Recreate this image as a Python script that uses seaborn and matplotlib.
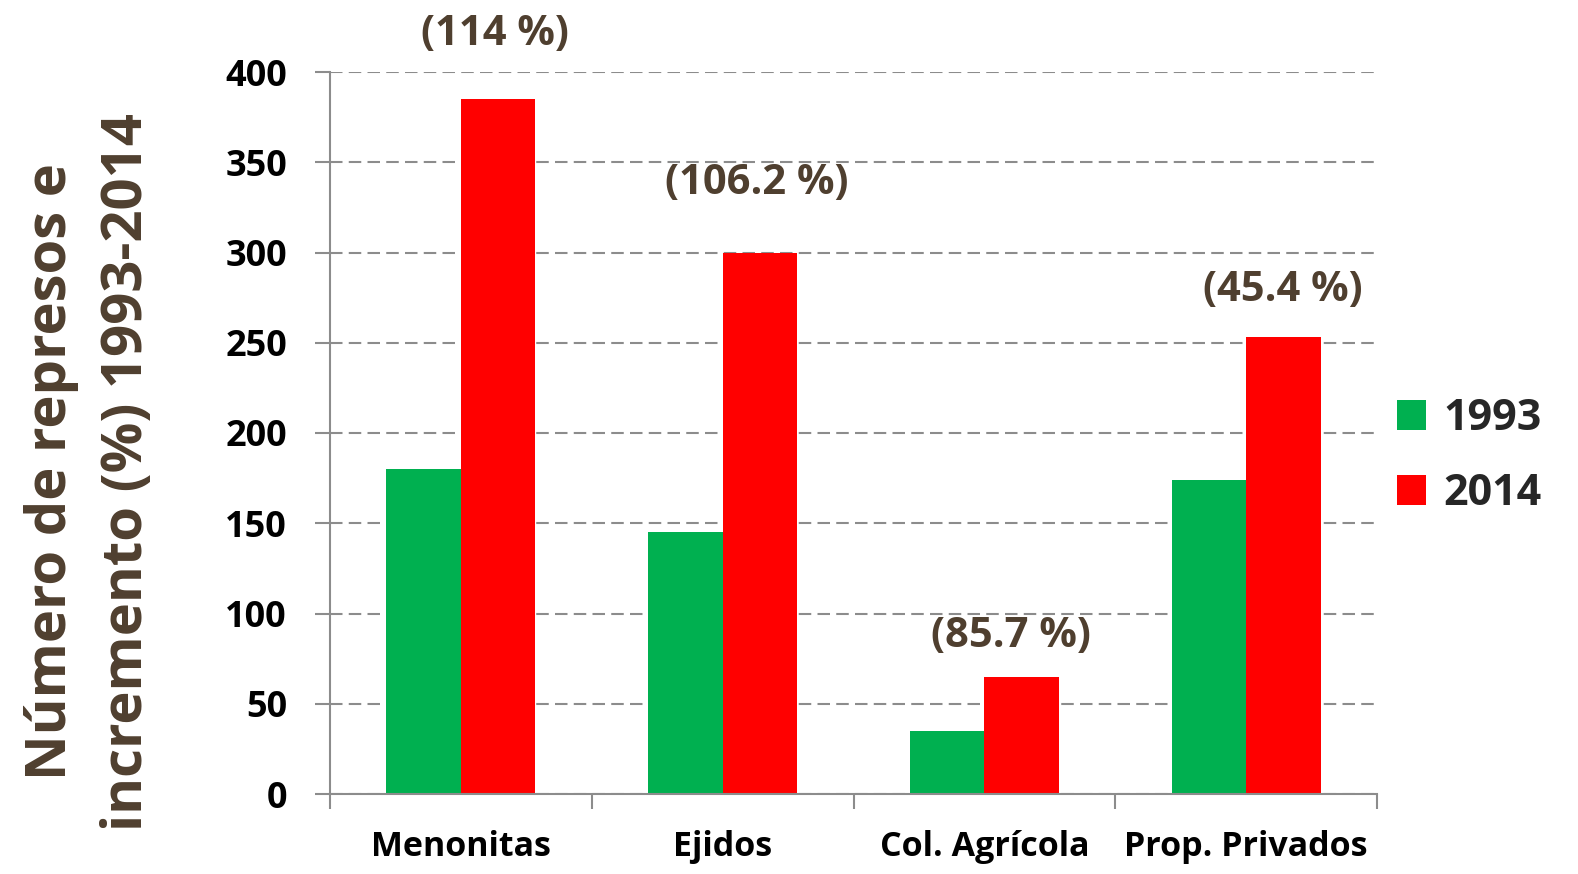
import numpy as np
import pandas as pd
import matplotlib
matplotlib.use("Agg")
import matplotlib.pyplot as plt
import seaborn as sns
from matplotlib.patches import Patch

# ---- data ----
categories = ["Menonitas", "Ejidos", "Col. Agrícola", "Prop. Privados"]
years = ["1993", "2014"]
values_1993 = [180, 145, 35, 174]
values_2014 = [385, 300, 65, 253]
increase_labels = ["(114 %)", "(106.2 %)", "(85.7 %)", "(45.4 %)"]
y_ticks = [0, 50, 100, 150, 200, 250, 300, 350, 400]

# ---- layout of the annotations (data-space centre y, x offset in category units) ----
label_y = [421, 338, 87, 279]
label_dx = [0.13, 0.13, 0.10, 0.14]

brown = "#4F3F2F"
grey = "#8C8C8C"
colors = ["#00B050", "#FF0000"]

sns.set_theme(style="white")
plt.rcParams['font.family'] = ['Open Sans', 'DejaVu Sans']

df = pd.DataFrame({
    "Categoría": categories * 2,
    "Año": [years[0]] * len(categories) + [years[1]] * len(categories),
    "Valor": values_1993 + values_2014,
})

fig = plt.figure(figsize=(15.78, 8.74), dpi=100)
ax = fig.add_axes([330 / 1578, 1 - 794 / 874, (1377 - 330) / 1578, (794 - 72) / 874])

sns.barplot(data=df, x="Categoría", y="Valor", hue="Año", order=categories,
            hue_order=years, palette=colors, width=0.57, saturation=1,
            errorbar=None, ax=ax, legend=False, linewidth=0)

ax.set_xlim(-0.5, 3.5)
ax.set_ylim(0, 400)
ax.set_xlabel("")
ax.set_ylabel("")

# grid
ax.set_axisbelow(True)
ax.yaxis.grid(True, linestyle=(0, (6, 3)), color=grey, linewidth=1.5)
ax.xaxis.grid(False)

for s in ["top", "right"]:
    ax.spines[s].set_visible(False)
for s in ["left", "bottom"]:
    ax.spines[s].set_color(grey)
    ax.spines[s].set_linewidth(1.5)

# y ticks
ax.set_yticks(y_ticks, labels=[str(t) for t in y_ticks], fontsize=26, fontweight="bold")
ax.tick_params(axis="y", left=True, length=11, width=1.5, color=grey, pad=20,
               labelcolor="black", direction="out")

# x ticks
ax.set_xticks(range(len(categories)), labels=categories, fontsize=24.5, fontweight="bold")
ax.set_xticks(np.arange(-0.5, len(categories), 1.0), minor=True)
ax.tick_params(axis="x", which="major", bottom=True, length=0, pad=26, labelcolor="black")
ax.tick_params(axis="x", which="minor", bottom=True, length=11, width=1.5, color=grey,
               direction="out")

# annotations
for i, (lab, ly, dx) in enumerate(zip(increase_labels, label_y, label_dx)):
    ax.text(i + dx, ly, lab, ha="center", va="center", fontsize=30,
            fontweight="bold", color=brown, clip_on=False)

# y label
fig.text(90 / 1578, 1 - 472 / 874, "Número de represos e\nincremento (%) 1993-2014",
         rotation=90, ha="center", va="center", fontsize=40.5, fontweight="bold",
         color=brown, linespacing=1.5, multialignment="center")

# legend
handles = [Patch(facecolor=c, edgecolor="none", label=y) for c, y in zip(colors, years)]
fig.legend(handles=handles, loc="center left", bbox_to_anchor=(1397 / 1578, 1 - 456 / 874),
           frameon=False, prop={"size": 31, "weight": "bold"}, handlelength=0.68,
           handleheight=0.68, handletextpad=0.4, labelspacing=0.75, borderpad=0,
           borderaxespad=0)

fig.savefig("out.png", dpi=100)
